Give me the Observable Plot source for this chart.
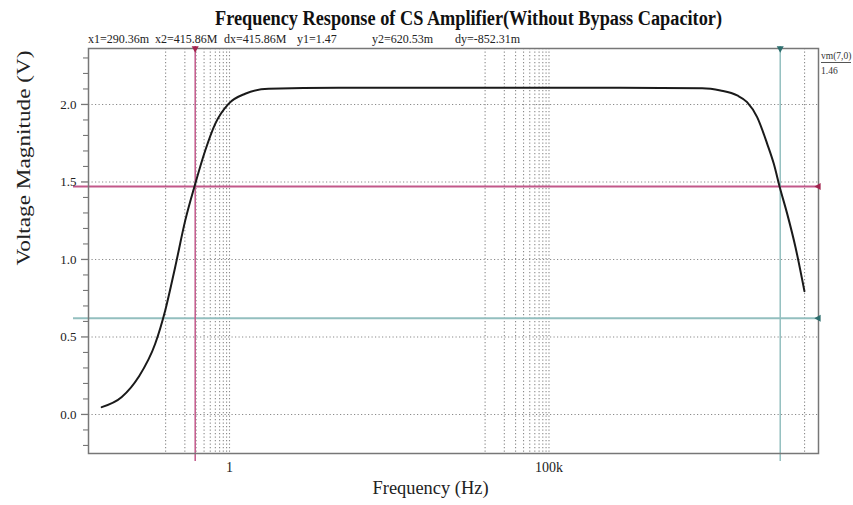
<!DOCTYPE html>
<html><head><meta charset="utf-8">
<script src="https://cdn.jsdelivr.net/npm/d3@7"></script>
<script src="https://cdn.jsdelivr.net/npm/@observablehq/plot@0.6"></script>
<style>
body{margin:0;background:#fff;}
#wrap{position:relative;width:853px;height:505px;overflow:hidden;font-family:"Liberation Serif","Times New Roman",serif;background:#fff;}
#head{position:absolute;left:0;top:0;overflow:visible;}
#chart{position:absolute;left:0;top:44px;}
.side{position:absolute;left:821px;font-size:9.5px;color:#333;line-height:10px;}
</style></head><body>
<div id="wrap">
<svg id="head" width="853" height="50"></svg>
<div id="chart"></div>
<div class="side" id="sideName" style="top:51px;border-bottom:1px solid #555;padding-bottom:1px;"></div>
<div class="side" id="sideVal" style="top:66px;"></div>
</div>
<script>
// ---- data ----
const freqHz = [0.01, 0.0206, 0.0377, 0.0687, 0.0986, 0.141, 0.203, 0.283, 0.417, 0.597, 0.965, 1.76, 4.08, 50.8, 1e4, 1e6, 2.5e7, 4.83e7, 8.81e7, 1.26e8, 1.81e8, 2.60e8, 3.30e8, 4.09e8, 5.35e8, 7.21e8, 9.96e8];
const voltage = [0.047, 0.112, 0.241, 0.456, 0.671, 0.950, 1.252, 1.471, 1.703, 1.875, 2.004, 2.069, 2.101, 2.107, 2.107, 2.107, 2.105, 2.090, 2.058, 2.015, 1.918, 1.746, 1.617, 1.466, 1.294, 1.079, 0.795];
const xTickValues = [1, 1e5];
const xTickLabels = ["1", "100k"];
const xGrid = [0.1, 0.2, 0.3, 0.4, 0.5, 0.6, 0.7, 0.8, 0.9, 1, 1e4, 2e4, 3e4, 4e4, 5e4, 6e4, 7e4, 8e4, 9e4, 1e5, 1e9];
const yMajor = [0, 0.5, 1.0, 1.5, 2.0];
const yMinor = [-0.2, -0.1, 0.1, 0.2, 0.3, 0.4, 0.6, 0.7, 0.8, 0.9, 1.1, 1.2, 1.3, 1.4, 1.6, 1.7, 1.8, 1.9, 2.1, 2.2, 2.3];
const cursorX = [0.29036, 415.86e6];
const cursorY = [1.47, 0.62053];
const readoutLabels = ["x1=290.36m", "x2=415.86M", "dx=415.86M", "y1=1.47", "y2=620.53m", "dy=-852.31m"];
const titleText = "Frequency Response of CS Amplifier(Without Bypass Capacitor)";
const xLabelText = "Frequency (Hz)";
const yLabelText = "Voltage Magnitude (V)";
const sideName = "vm(7,0)";
const sideValue = "1.46";

// ---- layout / style ----
const xDomain = [0.00621, 1.652e9];
const yDomain = [-0.252, 2.361];
const cursorColors = ["#c2588a", "#93bfbf"];
const markerColors = ["#a3244f", "#2d6e6e"];
const readoutX = [88, 155, 224, 297, 372, 455];

const data = freqHz.map((f, i) => ({f, v: voltage[i]}));

// header (title + cursor readout)
const head = d3.select("#head");
head.append("text").attr("x", 468.5).attr("y", 25).attr("text-anchor", "middle")
  .attr("font-family", "Liberation Serif, serif").attr("font-weight", "bold").attr("font-size", 20)
  .attr("fill", "#111").attr("textLength", 507).attr("lengthAdjust", "spacingAndGlyphs").text(titleText);
readoutLabels.forEach((s, i) => {
  head.append("text").attr("x", readoutX[i]).attr("y", 42.5)
    .attr("font-family", "Liberation Serif, serif").attr("font-size", 12).attr("fill", "#222").text(s);
});
document.getElementById("sideName").textContent = sideName;
document.getElementById("sideVal").textContent = sideValue;

const triDown = {draw(ctx, size) {const s = Math.sqrt(size / Math.PI); ctx.moveTo(-s, -s * 0.9); ctx.lineTo(s, -s * 0.9); ctx.lineTo(0, s * 0.9); ctx.closePath();}};
const triLeft = {draw(ctx, size) {const s = Math.sqrt(size / Math.PI); ctx.moveTo(s * 0.9, -s); ctx.lineTo(s * 0.9, s); ctx.lineTo(-s * 0.9, 0); ctx.closePath();}};

const gridStyle = {stroke: "#8a8a8a", strokeDasharray: "1.2,2.3", strokeWidth: 1.1};

const plot = Plot.plot({
  width: 853, height: 461,
  marginTop: 4, marginBottom: 52, marginLeft: 88, marginRight: 35,
  style: {fontFamily: "Liberation Serif, serif", background: "transparent", overflow: "visible"},
  x: {type: "log", domain: xDomain},
  y: {domain: yDomain},
  marks: [
    Plot.ruleX(xGrid, {x: d => d, ...gridStyle}),
    Plot.ruleY(yMajor, {y: d => d, ...gridStyle}),
    Plot.ruleY(cursorY, {y: d => d, stroke: (d, i) => cursorColors[i], strokeWidth: 2, insetLeft: -15}),
    Plot.ruleX(cursorX, {x: d => d, stroke: (d, i) => cursorColors[i], strokeWidth: 1.5, insetTop: -2, insetBottom: -8}),
    Plot.line(data, {x: "f", y: "v", stroke: "#1a1a1a", strokeWidth: 2, curve: "monotone-x"}),
    Plot.frame({stroke: "#777", strokeWidth: 1.5}),
    Plot.dot(cursorX, {x: d => d, y: () => yDomain[1], symbol: triDown, r: 3.5, fill: (d, i) => markerColors[i], stroke: "none", dy: 1}),
    Plot.dot(cursorY, {y: d => d, x: () => xDomain[1], symbol: triLeft, r: 3.5, fill: (d, i) => markerColors[i], stroke: "none", dx: -1}),
    Plot.axisY({ticks: yMajor, tickSize: 7, tickPadding: 5, tickFormat: d3.format(".1f"), fontSize: 13, stroke: "#777", strokeWidth: 1.3, fill: "#222", label: null}),
    Plot.axisY({ticks: yMinor, tickSize: 5, tickFormat: () => "", stroke: "#777", strokeWidth: 1.1, label: null}),
    Plot.axisX({ticks: xTickValues, tickFormat: d => xTickLabels[xTickValues.indexOf(d)], tickSize: 0, tickPadding: 9, fontSize: 14, fill: "#222", label: null}),
    Plot.text([xLabelText], {frameAnchor: "bottom", text: d => d, dx: -23, dy: 40, fontSize: 18, fill: "#222"}),
    Plot.text([yLabelText], {frameAnchor: "left", text: d => d, rotate: -90, dx: -64, dy: 14.5, fontSize: 18, fill: "#222"})
  ]
});
for (const t of plot.querySelectorAll("text")) {
  if (t.textContent === xLabelText) {t.setAttribute("textLength", 116); t.setAttribute("lengthAdjust", "spacingAndGlyphs");}
  if (t.textContent === yLabelText) {t.setAttribute("textLength", 215); t.setAttribute("lengthAdjust", "spacingAndGlyphs");}
}
document.getElementById("chart").appendChild(plot);
</script>
</body></html>
